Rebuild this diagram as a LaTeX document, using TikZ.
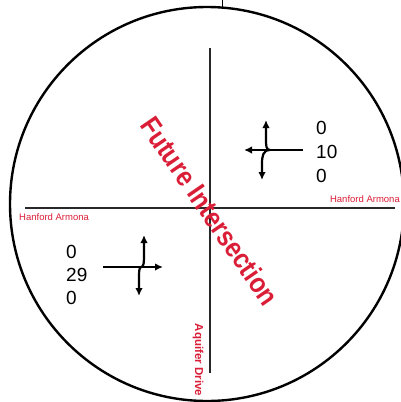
\documentclass[tikz,border=0pt]{standalone}
\usepackage{fontspec}
\setmainfont{Liberation Sans}
\usetikzlibrary{arrows.meta}
\definecolor{labelred}{RGB}{218,30,55}
\definecolor{roadgray}{RGB}{40,40,40}
\tikzset{
    road/.style={draw=roadgray, line width=1.6pt},
    roadlabel/.style={text=labelred, font=\fontsize{9.5}{10}\selectfont, inner sep=0pt},
    move/.style={line width=2.2pt, -{Latex[length=8pt,width=7.5pt]}},
    volume/.style={align=left, inner sep=0pt}
}
\begin{document}
\begin{tikzpicture}[x=1pt,y=-1pt]
\useasboundingbox (0,0) rectangle (401,402);

% study area
\draw[line width=2.4pt] (207,204) circle (197);
\draw[line width=0.8pt] (222,0) -- (222,7);

% roads
\coordinate (nEnd) at (210,48);
\coordinate (sEnd) at (210,373);
\coordinate (wEnd) at (25,208);
\coordinate (eEnd) at (395,208);
\draw[road] (nEnd) -- (sEnd);
\draw[road] (wEnd) -- (eEnd);

\node[roadlabel, anchor=west] (hanW) at (19,217) {Hanford Armona};
\node[roadlabel, anchor=east] (hanE) at (400,199) {Hanford Armona};
\node[roadlabel, font=\bfseries\fontsize{11.5}{12}\selectfont, rotate=-90] (aquifer) at (198,360) {Aquifer Drive};

\node[text=labelred, inner sep=0pt, font=\bfseries\fontsize{28}{28}\selectfont, rotate=-55.5] (future) at (210,211) {\scalebox{0.87}[1]{Future Intersection}};

% westbound approach
\coordinate (wbStart) at (303,150);
\coordinate (wbJoin) at (270,150);
\coordinate (wbLeft) at (244,150);
\coordinate (wbUp) at (266,120);
\coordinate (wbDown) at (262,180);
\draw[move] (wbStart) -- (wbLeft);
\draw[move] (wbJoin) .. controls (266,150) and (266,146) .. (266,138) -- (wbUp);
\draw[move] (wbJoin) .. controls (263,150) and (262,156) .. (262,164) -- (wbDown);
\node[volume, anchor=west, font=\fontsize{19}{24}\selectfont] (wbVol) at (316,152) {0\\10\\0};

% eastbound approach
\coordinate (ebStart) at (103,267);
\coordinate (ebJoin) at (141,267);
\coordinate (ebRight) at (163,267);
\coordinate (ebUp) at (144,235);
\coordinate (ebDown) at (139,296);
\draw[move] (ebStart) -- (ebRight);
\draw[move] (ebJoin) .. controls (144,267) and (144,262) .. (144,254) -- (ebUp);
\draw[move] (ebJoin) .. controls (139,268) and (139,272) .. (139,278) -- (ebDown);
\node[volume, anchor=west, font=\fontsize{19}{23}\selectfont] (ebVol) at (66,275) {0\\29\\0};

\end{tikzpicture}
\end{document}
